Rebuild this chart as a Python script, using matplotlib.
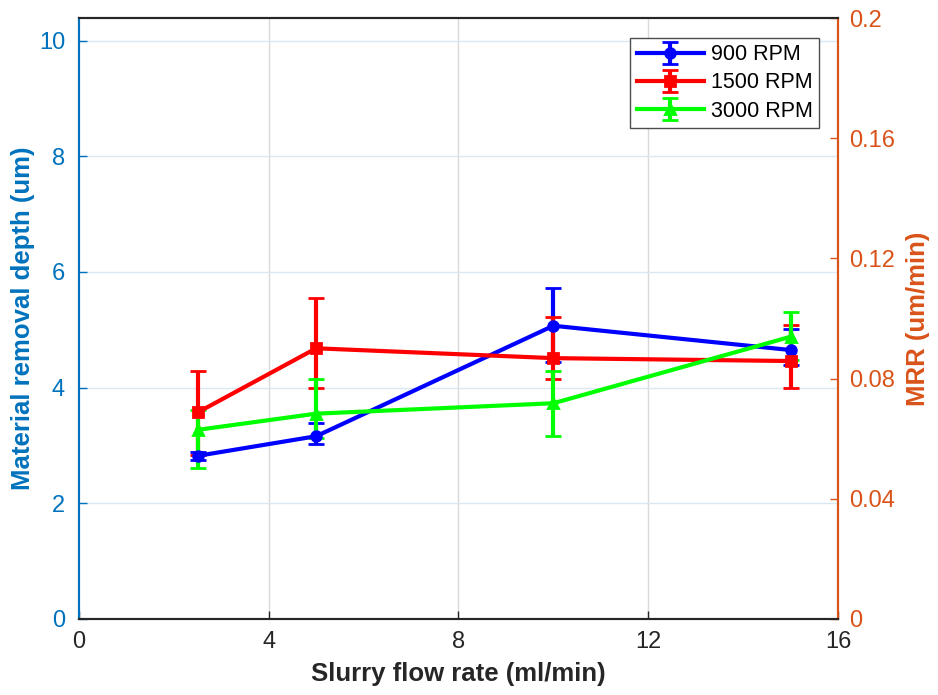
import matplotlib
matplotlib.use("Agg")
import matplotlib.pyplot as plt
import numpy as np

plt.rcParams['font.family'] = ['Liberation Sans', 'DejaVu Sans']

# Slurry flow rate (ml/min)
flow_rate = [2.5, 5, 10, 15]

# Material removal depth (um) with lower / upper error
depth_900 = [2.82, 3.16, 5.07, 4.65]
err_lo_900 = [0.07, 0.14, 0.62, 0.26]
err_hi_900 = [0.07, 0.23, 0.65, 0.36]

depth_1500 = [3.57, 4.68, 4.51, 4.46]
err_lo_1500 = [0.74, 0.69, 0.36, 0.47]
err_hi_1500 = [0.72, 0.87, 0.71, 0.62]

depth_3000 = [3.27, 3.55, 3.73, 4.88]
err_lo_3000 = [0.66, 0.42, 0.57, 0.40]
err_hi_3000 = [0.34, 0.60, 0.56, 0.42]

labels = ['900 RPM', '1500 RPM', '3000 RPM']
x_ticks = [0, 4, 8, 12, 16]
left_ticks = [0, 2, 4, 6, 8, 10]
right_ticks = [0, 0.04, 0.08, 0.12, 0.16, 0.2]

blue_axis = (0.0, 0.447, 0.741)
orange_axis = (0.85, 0.325, 0.098)
dark = (0.15, 0.15, 0.15)
grid_gray = (0.85, 0.85, 0.85)
grid_blue = (0.85, 0.91, 0.95)

fig = plt.figure(figsize=(9.38, 6.95), dpi=100)
ax = fig.add_axes([0.0842, 0.1094, 0.8092, 0.8646])
ax2 = ax.twinx()

series = [
    (depth_900, err_lo_900, err_hi_900, (0, 0, 1), 'o'),
    (depth_1500, err_lo_1500, err_hi_1500, (1, 0, 0), 's'),
    (depth_3000, err_lo_3000, err_hi_3000, (0, 1, 0), '^'),
]
handles = []
for (vals, lo, hi, col, mk), lab in zip(series, labels):
    h = ax.errorbar(flow_rate, vals, yerr=[lo, hi], color=col, marker=mk,
                    markersize=7, markeredgewidth=2, linewidth=3,
                    elinewidth=3, capsize=6, capthick=3, label=lab, zorder=3)
    handles.append(h)

ax.set_xlim(0, 16)
ax.set_ylim(0, 10.39)
ax.set_xticks(x_ticks)
ax.set_yticks(left_ticks)
ax.set_yticklabels([str(t) for t in left_ticks])
ax2.set_ylim(0, 0.2)
ax2.set_yticks(right_ticks)
ax2.set_yticklabels(['0', '0.04', '0.08', '0.12', '0.16', '0.2'])

# grid lines
for t in x_ticks[1:-1]:
    ax.axvline(t, color=grid_gray, linewidth=1, zorder=0)
for t in left_ticks[1:]:
    ax.axhline(t, color=grid_blue, linewidth=1, zorder=0)

tick_fs = 17
ax.tick_params(axis='x', direction='in', length=6, width=1, colors=dark,
               labelsize=tick_fs, pad=9, top=False)
ax.tick_params(axis='y', direction='in', length=6, width=1, colors=blue_axis,
               labelsize=tick_fs, pad=10)
ax2.tick_params(axis='y', direction='in', length=6, width=1, colors=orange_axis,
                labelsize=tick_fs, pad=8)

for a in (ax, ax2):
    a.spines['top'].set_color(dark)
    a.spines['bottom'].set_color(dark)
    a.spines['left'].set_color(blue_axis)
    a.spines['right'].set_color(orange_axis)
    for s in a.spines.values():
        s.set_linewidth(1.5)

ax.set_xlabel('Slurry flow rate (ml/min)', fontsize=18.5, fontweight='bold',
              color=dark, labelpad=6)
ax.set_ylabel('Material removal depth (um)', fontsize=18.5, fontweight='bold',
              color=blue_axis, labelpad=3)
ax2.set_ylabel('MRR (um/min)', fontsize=18.5, fontweight='bold',
               color=orange_axis, labelpad=8)

leg = ax.legend(handles=handles, labels=labels, loc='upper right',
                bbox_to_anchor=(0.9755, 0.967), fontsize=15.5, frameon=True,
                fancybox=False, edgecolor=(0.3, 0.3, 0.3), framealpha=1,
                handlelength=3.1, borderpad=0.3, labelspacing=0.33,
                handletextpad=0.35, borderaxespad=0.0)
leg.get_frame().set_linewidth(1)
ax.set_zorder(ax2.get_zorder() + 1)
ax.patch.set_visible(False)

fig.savefig('out.png', dpi=100)
